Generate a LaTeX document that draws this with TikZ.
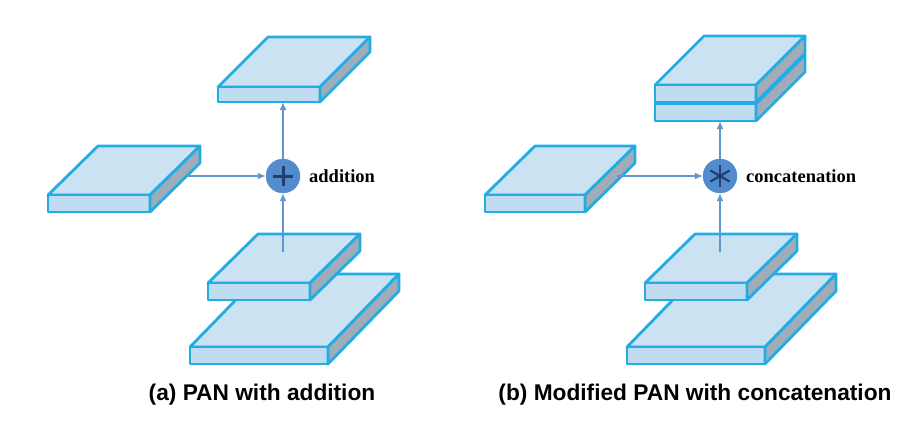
\documentclass[tikz,border=0pt]{standalone}
\usepackage{fontspec}
\setmainfont{Liberation Serif}
\setsansfont{Liberation Sans}
\usetikzlibrary{arrows.meta}

\definecolor{edgecyan}{RGB}{35,172,228}
\definecolor{topblue}{RGB}{202,226,242}
\definecolor{frontblue}{RGB}{192,220,240}
\definecolor{sidegray}{RGB}{160,172,184}
\definecolor{arrowblue}{RGB}{98,150,210}
\definecolor{circblue}{RGB}{82,140,204}
\definecolor{markblue}{RGB}{34,62,112}

% slab: front top-left x, y, width, height, depth x, depth y
\newcommand{\slab}[6]{%
  \draw[slabline, fill=topblue] (#1,#2) -- ++(#3,0) -- ++(#5,-#6) -- ++(-#3,0) -- cycle;
  \draw[slabline, fill=frontblue] (#1,#2) rectangle ++(#3,#4);
  \draw[slabline, fill=sidegray] (#1+#3,#2) -- ++(#5,-#6) -- ++(0,#4) -- ++(-#5,#6) -- cycle;
}

\begin{document}
\begin{tikzpicture}[x=1pt, y=-1pt]
		\tikzset{slabline/.style={draw=edgecyan, line width=2.8pt, line join=round}}
		\tikzset{arr/.style={draw=arrowblue, line width=2.5pt, -{Latex[length=8pt,width=7pt]}}}
		\tikzset{punkt/.style={circle, fill=circblue, draw=circblue, minimum size=34pt, inner sep=0}}
		\tikzset{lbl/.style={font=\bfseries\fontsize{18.5}{20}\selectfont, anchor=west, inner sep=0}}
		\tikzset{caption/.style={font=\sffamily\bfseries\fontsize{22.7}{26}\selectfont, inner sep=0}}
        \useasboundingbox (0,0) rectangle (913,426);

        % (a) PAN with addition
        \slab{218}{87}{102}{15}{50}{50}
        \slab{48}{195}{102}{17}{50}{49}
        \slab{190}{347}{138}{17}{71}{73}
        \slab{208}{283}{102}{17}{50}{49}

        \node[punkt] at (283, 176) (addA) {};
        \draw[markblue, line width=3pt] ([yshift=-10pt]addA.center) -- ([yshift=10pt]addA.center);
        \draw[markblue, line width=3pt] ([xshift=-10pt]addA.center) -- ([xshift=10pt]addA.center);
        \node[lbl] at (309, 176) (labA) {addition};

        \coordinate (inA) at (187, 176);
        \coordinate (upA) at (283, 252);
        \coordinate (outA) at (283, 102);
			\draw[arr] (inA) -- (addA);
			\draw[arr] (upA) -- (addA);
			\draw[arr] (addA) -- (outA);

        \node[caption] at (262, 395) (capA) {(a) PAN with addition};

        % (b) Modified PAN with concatenation
        \slab{655}{104}{101}{17}{49}{49}
        \slab{655}{85}{101}{17}{49}{49}
        \slab{485}{195}{100}{17}{50}{49}
        \slab{627}{347}{138}{17}{71}{73}
        \slab{645}{283}{102}{17}{50}{49}

        \node[punkt] at (720, 176) (catB) {};
        \draw[markblue, line width=2.2pt] ([yshift=-11pt]catB.center) -- ([yshift=11pt]catB.center);
        \draw[markblue, line width=2.2pt] ([shift={(-9.5pt,-5.5pt)}]catB.center) -- ([shift={(9.5pt,5.5pt)}]catB.center);
        \draw[markblue, line width=2.2pt] ([shift={(-9.5pt,5.5pt)}]catB.center) -- ([shift={(9.5pt,-5.5pt)}]catB.center);
        \node[lbl] at (746, 176) (labB) {concatenation};

        \coordinate (inB) at (617, 176);
        \coordinate (upB) at (720, 252);
        \coordinate (outB) at (720, 121);
			\draw[arr] (inB) -- (catB);
			\draw[arr] (upB) -- (catB);
			\draw[arr] (catB) -- (outB);

        \node[caption] at (695, 395) (capB) {(b) Modified PAN with concatenation};

\end{tikzpicture}
\end{document}
